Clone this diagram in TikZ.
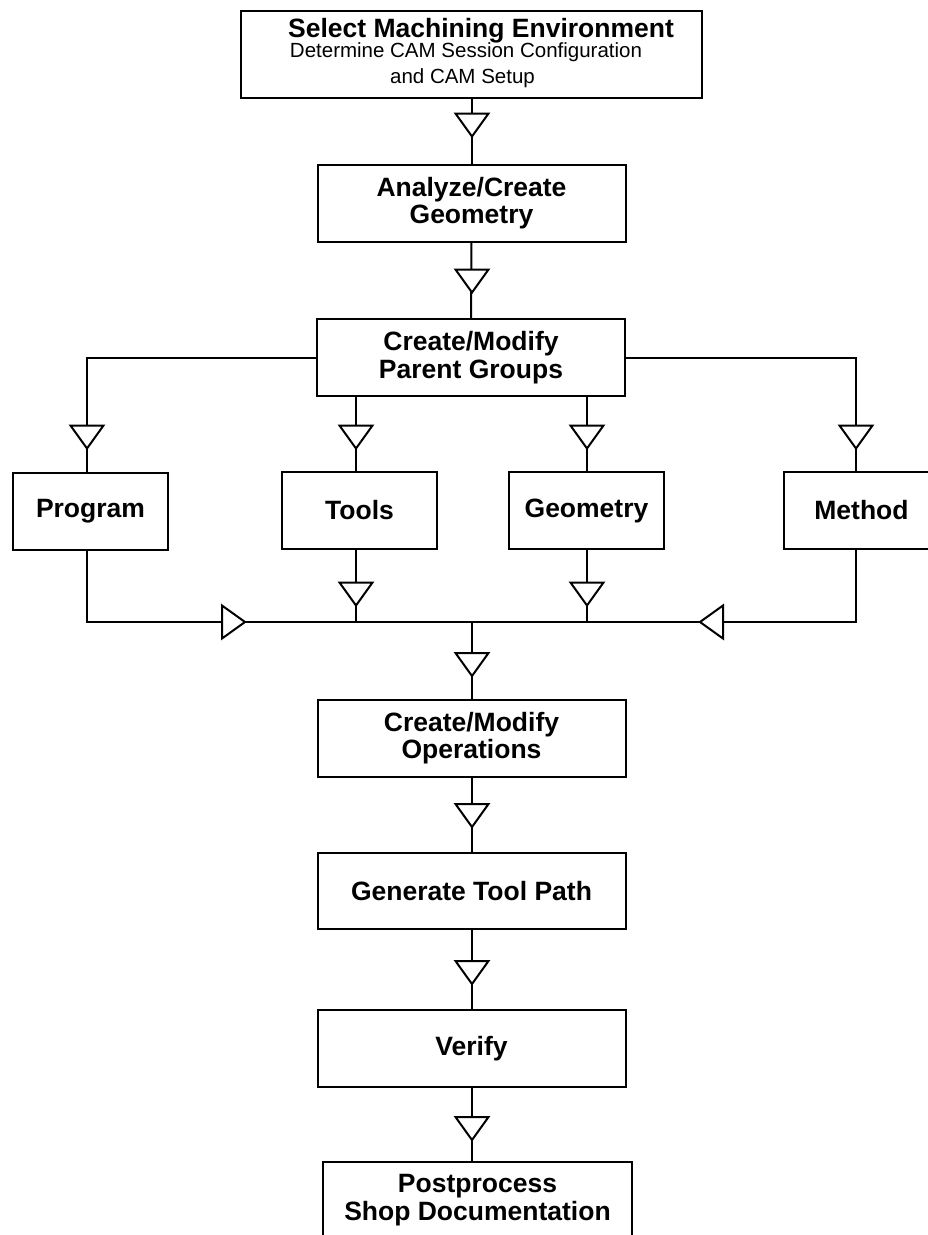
\documentclass[tikz,border=0pt]{standalone}
\usepackage{fontspec}
\setmainfont{Liberation Sans}
\tikzset{
  box/.style={draw, line width=2pt, inner sep=0pt, align=center,
    font=\bfseries\fontsize{26.5}{27.5}\selectfont},
  small/.style={box, minimum width=155pt, minimum height=77pt},
  wide/.style={box, minimum width=308pt, minimum height=77pt},
  ln/.style={line width=2pt},
  tri/.pic={\draw[line width=2pt, fill=white, line join=miter]
    (-16.5,-11.5) -- (16.5,-11.5) -- (0,11.5) -- cycle;}
}
\begin{document}
\begin{tikzpicture}[x=1pt,y=-1pt]
\useasboundingbox (0,0) rectangle (928,1235);
\fill[white] (0,0) rectangle (928,1235);
\clip (0,0) rectangle (928,1235);

% top box
\node[box, minimum width=461pt, minimum height=87pt] (env) at (471.5,54.5) {};
\node[anchor=base, inner sep=0pt, font=\bfseries\fontsize{26.5}{28}\selectfont] (envt) at (481,37) {Select Machining Environment};
\node[anchor=base, inner sep=0pt, font=\fontsize{20.5}{24}\selectfont] (envs1) at (466,57) {Determine CAM Session Configuration};
\node[anchor=base, inner sep=0pt, font=\fontsize{20.5}{24}\selectfont] (envs2) at (462.5,83) {and CAM Setup};

\node[wide] (analyze) at (471.5,203) {Analyze/Create\\Geometry};
\node[wide] (parent) at (471,357.5) {Create/Modify\\Parent Groups};

\node[small] (program) at (90.5,511) {\raisebox{-1.5pt}{Program}};
\node[small] (tools) at (359.5,510.5) {Tools};
\node[small] (geometry) at (586.5,510.5) {\raisebox{-2pt}{Geometry}};
\node[small] (method) at (861.5,510.5) {Method};

\node[wide] (ops) at (471.5,738) {Create/Modify\\Operations};
\node[wide, minimum height=76pt] (path) at (471.5,891) {Generate Tool Path};
\node[wide] (verify) at (471.5,1048.5) {Verify};
\node[box, minimum width=309pt, minimum height=76pt] (post) at (477.5,1200) {Postprocess\\Shop Documentation};

% connectors
\draw[ln] (env.south) -- (analyze.north);
\draw[ln] (analyze.south) -- (parent.north);
\draw[ln] (parent.west) -| ([xshift=-3.5pt]program.north);
\draw[ln] ([xshift=-3.5pt]tools.north |- parent.south) -- ([xshift=-3.5pt]tools.north);
\draw[ln] (geometry.north |- parent.south) -- (geometry.north);
\draw[ln] (parent.east) -| ([xshift=-5.5pt]method.north);

\coordinate (bus) at (472,622);
\draw[ln] ([xshift=-3.5pt]program.south) |- (bus) -| ([xshift=-5.5pt]method.south);
\draw[ln] ([xshift=-3.5pt]tools.south) -- ([xshift=-3.5pt]tools.south |- bus);
\draw[ln] (geometry.south) -- (geometry.south |- bus);
\draw[ln] (bus) -- (bus |- ops.north);
\draw[ln] (ops.south) -- (path.north);
\draw[ln] (path.south) -- (verify.north);
\draw[ln] (verify.south) -- (verify.south |- post.north);

% arrow triangles
\path (472,125) pic {tri};
\path (472,281) pic {tri};
\path (87,437) pic {tri};
\path (356,437) pic {tri};
\path (587,437) pic {tri};
\path (856,437) pic {tri};
\path (356,594) pic {tri};
\path (587,594) pic {tri};
\path (233.5,622) pic[rotate=90] {tri};
\path (711.5,622) pic[rotate=-90] {tri};
\path (472,664.5) pic {tri};
\path (472,815.5) pic {tri};
\path (472,972.5) pic {tri};
\path (472,1128.5) pic {tri};
\end{tikzpicture}
\end{document}
